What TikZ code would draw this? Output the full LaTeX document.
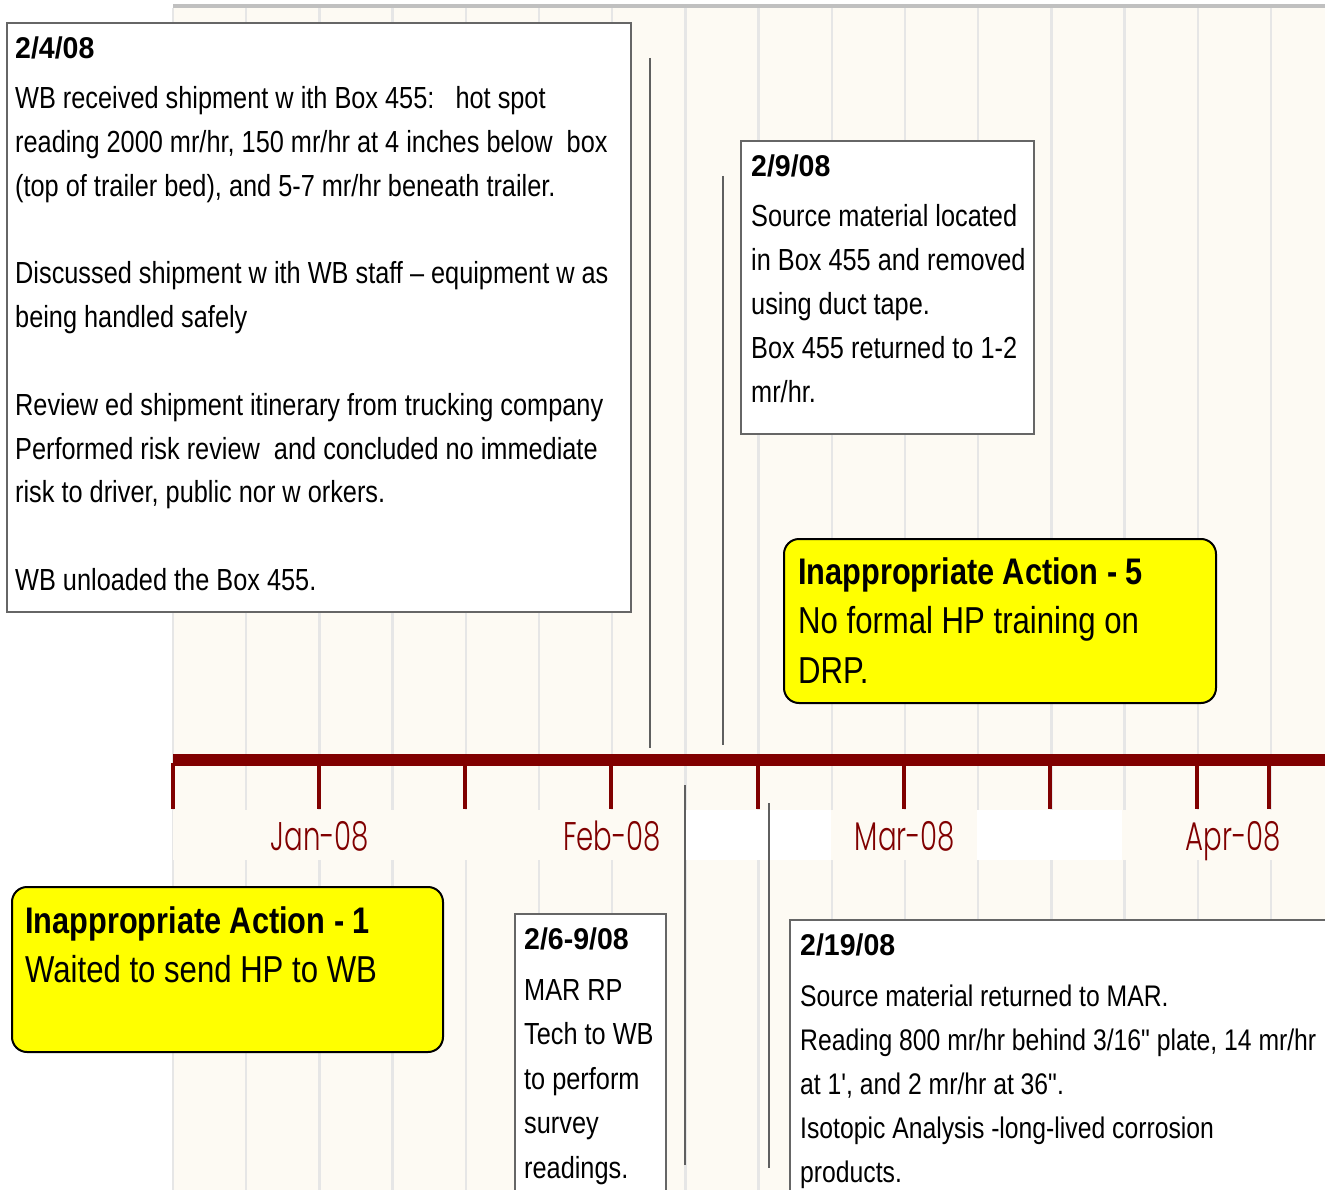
\documentclass[tikz,border=0pt]{standalone}
\usepackage{fontspec}
\setmainfont{Liberation Sans}[FakeStretch=0.83,Ligatures=TeXOff]
\newfontfamily\headfont{Liberation Sans}[FakeStretch=0.95,Ligatures=TeXOff]
\newfontfamily\datefont{Poppins Light}[FakeStretch=0.69]
\definecolor{cream}{HTML}{FDFAF3}
\definecolor{stripe}{HTML}{E6E6E6}
\definecolor{topline}{HTML}{C0C0C0}
\definecolor{axisred}{HTML}{800000}
\definecolor{leadgray}{HTML}{5F5F5F}
\definecolor{boxgray}{HTML}{666666}
\definecolor{flagyellow}{RGB}{255,255,0}
\newcommand\bline[1]{\hbox{#1}}
\newcommand\lineblock[2]{\vtop{\baselineskip=#1\relax\lineskiplimit=-100pt\lineskip=0pt #2}}
\tikzset{
  panel/.style={draw=boxgray, line width=2pt, fill=white, inner sep=0pt, outer sep=0pt, anchor=north west},
  flag/.style={draw=black, line width=2pt, fill=flagyellow, rounded corners=15pt, inner sep=0pt, outer sep=0pt, anchor=north west},
  head/.style={anchor=base west, inner sep=0pt, font=\headfont\bfseries\fontsize{30}{36}\selectfont},
  body/.style={anchor=base west, inner sep=0pt, font=\fontsize{30.5}{43.8}\selectfont},
  flaghead/.style={anchor=base west, inner sep=0pt, font=\bfseries\fontsize{37}{50}\selectfont},
  flagbody/.style={anchor=base west, inner sep=0pt, font=\fontsize{37.5}{50}\selectfont},
  datelab/.style={anchor=base, text=axisred, inner sep=0pt, font=\datefont\fontsize{40}{48}\selectfont},
  leader/.style={draw=leadgray, line width=2pt},
  stripeline/.style={draw=stripe, line width=2.5pt},
  tickmark/.style={draw=axisred, line width=4pt},
}
\begin{document}
\begin{tikzpicture}[x=1pt,y=-1pt]
\useasboundingbox (0,0) rectangle (1325,1190);
\clip (0,0) rectangle (1325,1190);
\fill[white] (0,0) rectangle (1325,1190);
% plot area
\fill[cream] (173,8) rectangle (1325,1190);
\fill[topline] (173,4) rectangle (1325,8);
\foreach \i in {0,...,15} {
  \draw[stripeline] (173+73.2*\i,8) -- (173+73.2*\i,1190);
}
% label band
\fill[cream] (173,810) rectangle (1325,860);
\fill[white] (685,810) rectangle (831,860);
\fill[white] (977,810) rectangle (1122,860);
% axis
\fill[axisred] (173,754) rectangle (1325,766);
\foreach \t in {172.5,318.8,465.1,611.4,757.7,904,1050.3,1196.6,1268.5} {
  \draw[tickmark] (\t,763) -- (\t,809);
}
\node[datelab] (jan) at (320,850) {Jan-08};
\node[datelab] (feb) at (612,850) {Feb-08};
\node[datelab] (mar) at (905,850) {Mar-08};
\node[datelab] (apr) at (1233,850) {Apr-08};
% leader lines
\coordinate (l1a) at (650,58);   \coordinate (l1b) at (650,748);
\coordinate (l2a) at (723,176);  \coordinate (l2b) at (723,745);
\coordinate (l3a) at (685,785);  \coordinate (l3b) at (685,1165);
\coordinate (l4a) at (769,803);  \coordinate (l4b) at (769,1168);
\draw[leader] (l1a) -- (l1b);
\draw[leader] (l2a) -- (l2b);
\draw[leader] (l3a) -- (l3b);
\draw[leader] (l4a) -- (l4b);
% box 2/4/08
\node[panel, minimum width=624pt, minimum height=589pt] (b1) at (7,23) {};
\node[head] (b1h) at (15,58.7) {2/4/08};
\node[body] (b1t) at (15,108.7) {\lineblock{43.8pt}{%
  \bline{WB received shipment w ith Box 455:\ \ \ hot spot}%
  \bline{reading 2000 mr/hr, 150 mr/hr at 4 inches below\ \ box}%
  \bline{(top of trailer bed), and 5-7 mr/hr beneath trailer.}%
  \bline{}%
  \bline{Discussed shipment w ith WB staff – equipment w as}%
  \bline{being handled safely}%
  \bline{}%
  \bline{Review ed shipment itinerary from trucking company}%
  \bline{Performed risk review\ \ and concluded no immediate}%
  \bline{risk to driver, public nor w orkers.}%
  \bline{}%
  \bline{WB unloaded the Box 455.}}};
% box 2/9/08
\node[panel, minimum width=293pt, minimum height=293pt] (b2) at (741,141) {};
\node[head] (b2h) at (751,176.7) {2/9/08};
\node[body] (b2t) at (751,226.7) {\lineblock{44pt}{%
  \bline{Source material located}%
  \bline{in Box 455 and removed}%
  \bline{using duct tape.}%
  \bline{Box 455 returned to 1-2}%
  \bline{mr/hr.}}};
% box 2/6-9/08
\node[panel, minimum width=151pt, minimum height=300pt] (b3) at (515,914) {};
\node[head] (b3h) at (524,949.7) {2/6-9/08};
\node[body] (b3t) at (524,1000.4) {\lineblock{44.4pt}{%
  \bline{MAR RP}%
  \bline{Tech to WB}%
  \bline{to perform}%
  \bline{survey}%
  \bline{readings.}}};
% box 2/19/08
\node[panel, minimum width=560pt, minimum height=300pt] (b4) at (790,920) {};
\node[head] (b4h) at (800,955.7) {2/19/08};
\node[body, font=\fontsize{29.8}{44}\selectfont] (b4t) at (800,1006) {\lineblock{44pt}{%
  \bline{Source material returned to MAR.}%
  \bline{Reading 800 mr/hr behind 3/16" plate, 14 mr/hr}%
  \bline{at 1', and 2 mr/hr at 36".}%
  \bline{Isotopic Analysis -long-lived corrosion}%
  \bline{products.}}};
% yellow flags
\node[flag, minimum width=432pt, minimum height=164pt] (f5) at (784,539) {};
\node[flaghead] (f5h) at (798,584) {Inappropriate Action - 5};
\node[flagbody] (f5t) at (798,633) {\lineblock{50pt}{%
  \bline{No formal HP training on}%
  \bline{DRP.}}};
\node[flag, minimum width=431pt, minimum height=165pt] (f1) at (12,887) {};
\node[flaghead] (f1h) at (25,933) {Inappropriate Action - 1};
\node[flagbody] (f1t) at (25,982) {Waited to send HP to WB};
\end{tikzpicture}
\end{document}
